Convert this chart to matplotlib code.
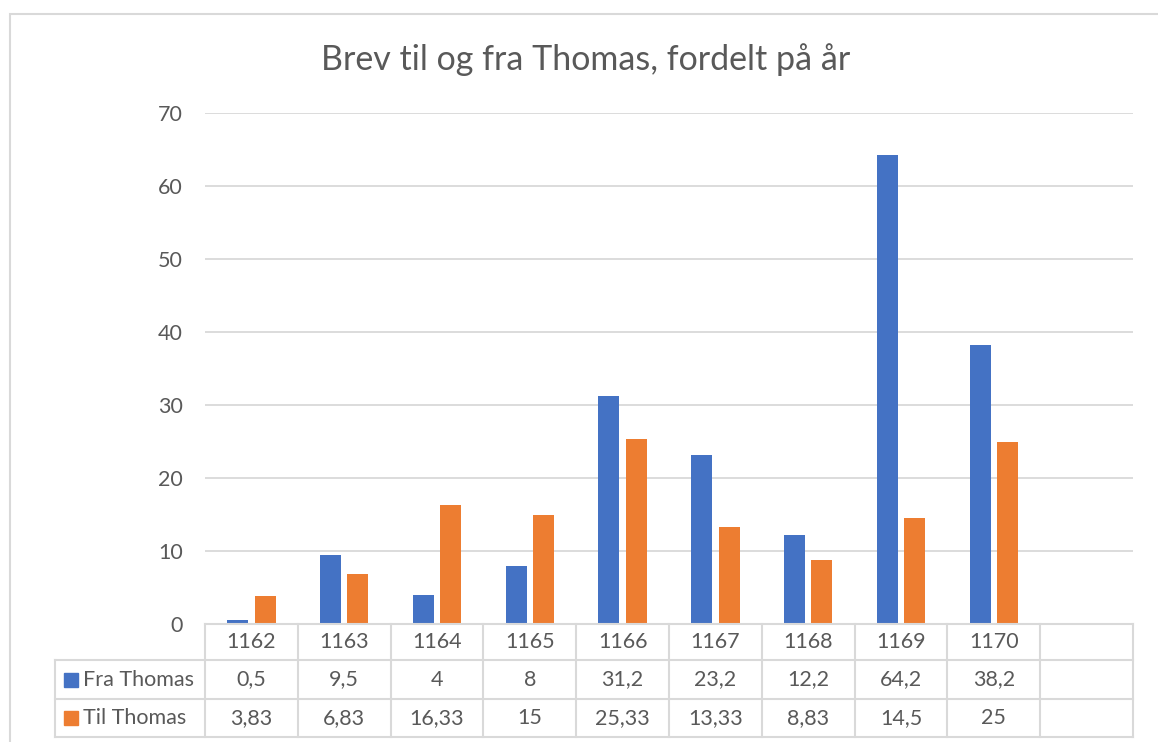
import matplotlib.pyplot as plt
import matplotlib.patches as mpatches
import numpy as np

plt.rcParams['font.family'] = ['Lato', 'DejaVu Sans']

years = ['1162', '1163', '1164', '1165', '1166', '1167', '1168', '1169', '1170', '']
fra_thomas = [0.5, 9.5, 4, 8, 31.2, 23.2, 12.2, 64.2, 38.2]
til_thomas = [3.83, 6.83, 16.33, 15, 25.33, 13.33, 8.83, 14.5, 25]
series_names = ['Fra Thomas', 'Til Thomas']

blue = '#4472C4'
orange = '#ED7D31'
grey = '#595959'
line_col = '#D9D9D9'

fig = plt.figure(figsize=(11.58, 7.42), dpi=100)
# outer chart frame (cut off at the right and bottom)
fig.patches.append(mpatches.Rectangle((10 / 1158, -0.1), 1.2, (742 - 14) / 742 + 0.1,
                                      transform=fig.transFigure, fill=False,
                                      edgecolor=line_col, linewidth=1.5))

ax = fig.add_axes([205 / 1158, (742 - 624) / 742, 928 / 1158, 511 / 742])

x = np.arange(len(fra_thomas))
w = 0.226
off = 0.148
ax.bar(x - off, fra_thomas, w, color=blue, zorder=3)
ax.bar(x + off, til_thomas, w, color=orange, zorder=3)

ax.set_xlim(-0.5, len(years) - 0.5)
ax.set_ylim(0, 70)
ax.set_yticks(range(0, 71, 10))
ax.set_xticks([])
ax.tick_params(axis='y', length=0, pad=16, labelsize=15.5, labelcolor=grey)
ax.grid(axis='y', color=line_col, linewidth=1.3, zorder=0)
for s in ax.spines.values():
    s.set_visible(False)

fig.text(586 / 1158, (742 - 60) / 742, 'Brev til og fra Thomas, fordelt på år',
         fontsize=24.5, color=grey, ha='center', va='center')

# data table under the plot
trans = ax.get_xaxis_transform()
rows = [0, -36 / 511, -75 / 511, -113 / 511]
left = -0.5 - 150 / 92.8
n = len(years)
kw = dict(color=line_col, linewidth=1.5, transform=trans, clip_on=False, zorder=4)
ax.plot([-0.5, n - 0.5], [rows[0], rows[0]], **kw)
for r in rows[1:]:
    ax.plot([left, n - 0.5], [r, r], **kw)
for k in range(n + 1):
    ax.plot([k - 0.5, k - 0.5], [rows[0], rows[3]], **kw)
ax.plot([left, left], [rows[1], rows[3]], **kw)

def fmt(v):
    return f'{v:g}'.replace('.', ',')

tkw = dict(transform=trans, ha='center', va='center', fontsize=15.5, color=grey, clip_on=False)
for i, yr in enumerate(years):
    ax.text(i, (rows[0] + rows[1]) / 2, yr, **tkw)
for r, (name, vals, col) in enumerate(zip(series_names, [fra_thomas, til_thomas], [blue, orange])):
    yc = (rows[r + 1] + rows[r + 2]) / 2
    for i, v in enumerate(vals):
        ax.text(i, yc, fmt(v), **tkw)
    ax.add_patch(mpatches.Rectangle((-0.5 - 141 / 92.8, yc - 7 / 511), 14 / 92.8, 14 / 511,
                                    transform=trans, color=col, clip_on=False))
    ax.text(-0.5 - 122 / 92.8, yc, name, transform=trans, ha='left', va='center',
            fontsize=15.5, color=grey, clip_on=False)

fig.savefig('out.png', dpi=100)
